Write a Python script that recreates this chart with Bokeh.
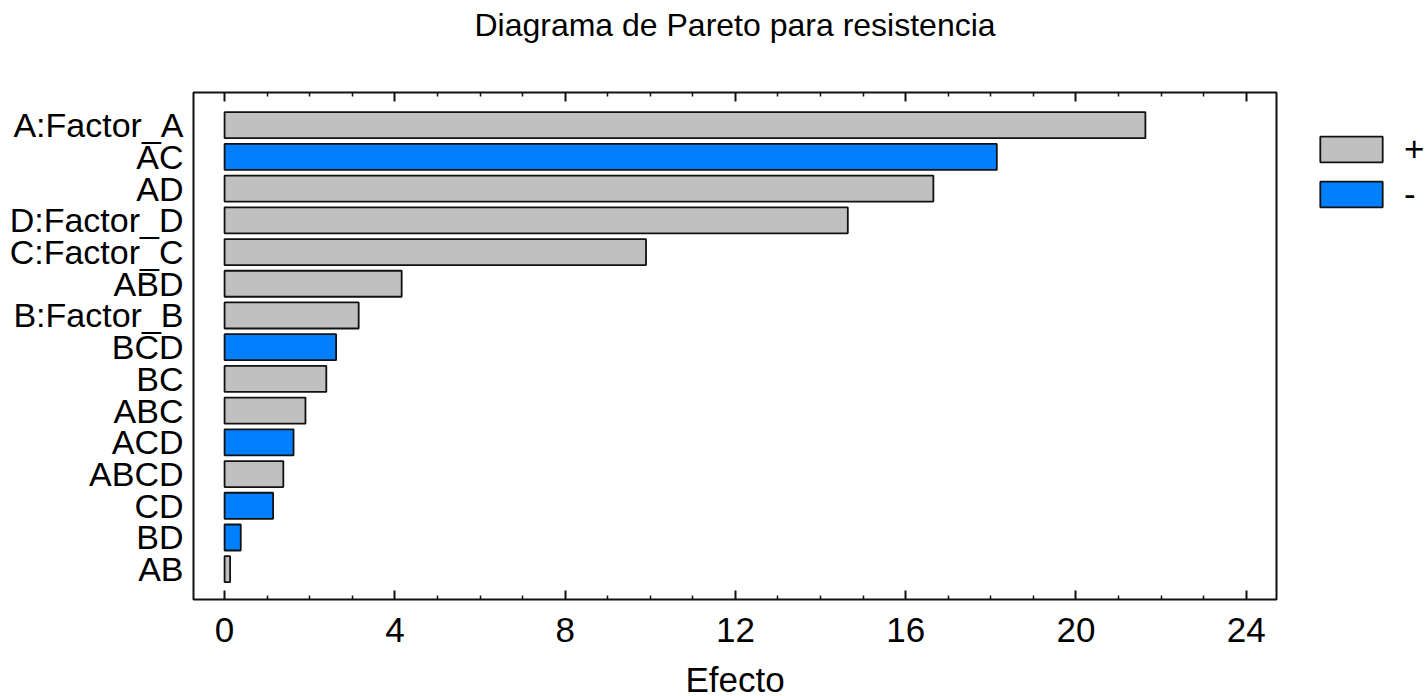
from bokeh.plotting import figure
from bokeh.models import FixedTicker, LinearAxis, Range1d, Legend, LegendItem, ColumnDataSource
from bokeh.embed import file_html
from bokeh.resources import INLINE

factors = ["A:Factor_A", "AC", "AD", "D:Factor_D", "C:Factor_C", "ABD", "B:Factor_B",
           "BCD", "BC", "ABC", "ACD", "ABCD", "CD", "BD", "AB"]
effects = [21.63, 18.14, 16.65, 14.64, 9.90, 4.16, 3.15, 2.62, 2.39, 1.90, 1.62, 1.38, 1.14, 0.38, 0.13]
signs = ["+", "-", "+", "+", "+", "+", "+", "-", "+", "+", "-", "+", "-", "-", "+"]
x_ticks = [0, 4, 8, 12, 16, 20, 24]
x_minor = [1, 2, 3, 5, 6, 7, 9, 10, 11, 13, 14, 15, 17, 18, 19, 21, 22, 23]
title_text = "Diagrama de Pareto para resistencia"
x_label = "Efecto"

FONT = "Liberation Sans"
n = len(factors)
ypos = [n - i for i in range(n)]

p = figure(frame_width=1083, frame_height=507, output_backend="svg", toolbar_location=None,
           x_range=Range1d(-0.73, 24.71), y_range=Range1d(0.045, 16.03),
           min_border_left=193, min_border_right=149, min_border_bottom=96, min_border_top=92)

colors = {"+": "#C0C0C0", "-": "#0080FF"}
renderers = {}
for s in ["+", "-"]:
    idx = [i for i in range(n) if signs[i] == s]
    src = ColumnDataSource(dict(y=[ypos[i] for i in idx], right=[effects[i] for i in idx]))
    renderers[s] = p.hbar(y="y", left=0, right="right", height=0.82, source=src,
                          fill_color=colors[s], line_color="#111111", line_width=1.8)

p.xgrid.visible = False
p.ygrid.visible = False
p.outline_line_color = "#111111"
p.outline_line_width = 2

xa = p.xaxis[0]
xa.ticker = FixedTicker(ticks=x_ticks, minor_ticks=x_minor)
xa.axis_line_color = None
xa.major_tick_in = 9
xa.major_tick_out = 0
xa.minor_tick_in = 4
xa.minor_tick_out = 0
xa.major_tick_line_width = 2
xa.minor_tick_line_width = 1.5
xa.major_tick_line_color = "#111111"
xa.minor_tick_line_color = "#111111"
xa.major_label_text_font = FONT
xa.major_label_text_font_size = "35px"
xa.major_label_text_color = "black"
xa.major_label_standoff = 18
xa.axis_label = x_label
xa.axis_label_text_font = FONT
xa.axis_label_text_font_size = "35px"
xa.axis_label_text_font_style = "normal"
xa.axis_label_text_color = "black"
xa.axis_label_standoff = 15

# top axis: mirrored ticks, carries the chart title as its label
top = LinearAxis(ticker=FixedTicker(ticks=x_ticks, minor_ticks=x_minor))
top.axis_line_color = None
top.major_tick_in = 9
top.major_tick_out = 0
top.minor_tick_in = 4
top.minor_tick_out = 0
top.major_tick_line_width = 2
top.minor_tick_line_width = 1.5
top.major_tick_line_color = "#111111"
top.minor_tick_line_color = "#111111"
top.major_label_overrides = {t: "" for t in x_ticks}
top.major_label_standoff = 0
top.axis_label = title_text
top.axis_label_text_font = FONT
top.axis_label_text_font_size = "32px"
top.axis_label_text_font_style = "normal"
top.axis_label_text_color = "black"
top.axis_label_standoff = 50
p.add_layout(top, "above")

ya = p.yaxis[0]
ya.ticker = FixedTicker(ticks=ypos)
ya.major_label_overrides = {ypos[i]: factors[i] for i in range(n)}
ya.axis_line_color = None
ya.major_tick_line_color = None
ya.minor_tick_line_color = None
ya.major_tick_in = 0
ya.major_tick_out = 0
ya.major_label_text_font = FONT
ya.major_label_text_font_size = "34px"
ya.major_label_text_color = "black"
ya.major_label_standoff = 10

legend = Legend(items=[LegendItem(label="+", renderers=[renderers["+"]]),
                       LegendItem(label="-", renderers=[renderers["-"]])],
                location=(36, 385))
legend.glyph_width = 78
legend.glyph_height = 32
legend.label_height = 32
legend.spacing = 5
legend.label_standoff = 14
legend.label_text_font = FONT
legend.label_text_font_size = "35px"
legend.label_text_color = "black"
legend.padding = 0
legend.margin = 0
legend.border_line_color = None
legend.background_fill_alpha = 0
p.add_layout(legend, "right")

open("out.html", "w").write(file_html(p, INLINE))
